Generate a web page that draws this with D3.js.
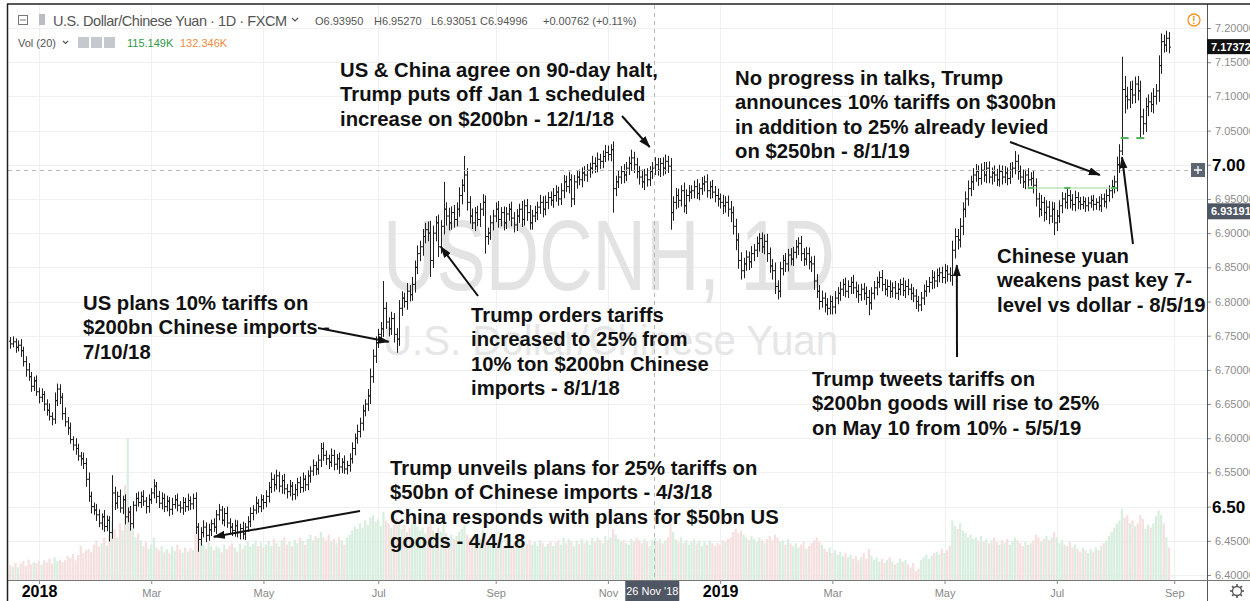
<!DOCTYPE html>
<html lang="en">
<head>
<meta charset="UTF-8">
<title>USDCNH 1D</title>
<script src="https://d3js.org/d3.v7.min.js"></script>
<style>
  body { margin: 0; background: #fff; }
  svg { display: block; }
</style>
</head>
<body>
<script>
// daily USD/CNH bars, Dec 15 2017 .. Aug 29 2019 (weekdays)
var startDate = "2017-12-15";
var firstOpen = 6.742;
var closes = [
 6.738,6.741,6.733,6.736,6.728,6.712,6.700,6.690,6.676,6.684,
 6.668,6.660,6.664,6.650,6.641,6.632,6.628,6.655,6.672,6.660,
 6.636,6.624,6.615,6.598,6.590,6.585,6.574,6.570,6.563,6.540,
 6.515,6.500,6.495,6.488,6.476,6.485,6.471,6.480,6.462,6.520,
 6.505,6.515,6.498,6.510,6.485,6.492,6.475,6.502,6.512,6.506,
 6.515,6.508,6.500,6.510,6.520,6.530,6.515,6.505,6.512,6.500,
 6.508,6.496,6.503,6.510,6.502,6.498,6.506,6.500,6.509,6.504,
 6.512,6.470,6.452,6.462,6.470,6.458,6.466,6.475,6.470,6.488,
 6.495,6.480,6.490,6.476,6.470,6.465,6.472,6.462,6.468,6.460,
 6.470,6.478,6.490,6.495,6.505,6.500,6.510,6.506,6.515,6.528,
 6.540,6.532,6.545,6.530,6.538,6.526,6.522,6.530,6.518,6.525,
 6.535,6.528,6.540,6.532,6.545,6.552,6.560,6.555,6.568,6.585,
 6.575,6.570,6.565,6.575,6.562,6.570,6.558,6.565,6.555,6.560,
 6.570,6.585,6.600,6.610,6.622,6.640,6.650,6.662,6.690,6.720,
 6.740,6.752,6.760,6.790,6.770,6.760,6.775,6.752,6.745,6.790,
 6.805,6.800,6.815,6.810,6.825,6.850,6.870,6.880,6.895,6.905,
 6.900,6.860,6.900,6.915,6.880,6.910,6.935,6.925,6.915,6.930,
 6.920,6.935,6.955,6.970,6.985,6.945,6.925,6.915,6.930,6.920,
 6.935,6.945,6.895,6.900,6.915,6.925,6.935,6.920,6.930,6.915,
 6.928,6.935,6.922,6.912,6.925,6.935,6.920,6.940,6.930,6.915,
 6.925,6.930,6.938,6.945,6.935,6.945,6.952,6.948,6.955,6.960,
 6.950,6.962,6.975,6.968,6.978,6.950,6.975,6.982,6.978,6.988,
 6.985,6.992,6.995,7.002,6.998,7.008,7.005,7.012,7.018,7.015,
 7.022,6.965,6.975,6.982,6.990,6.985,6.995,7.002,7.010,7.000,
 6.990,6.982,6.975,6.985,6.978,6.990,6.995,7.000,6.992,7.002,
 6.995,7.005,6.998,6.930,6.945,6.955,6.948,6.962,6.940,6.955,
 6.960,6.962,6.968,6.958,6.965,6.972,6.975,6.962,6.968,6.960,
 6.955,6.950,6.945,6.940,6.945,6.935,6.930,6.910,6.890,6.860,
 6.845,6.855,6.865,6.858,6.870,6.875,6.885,6.892,6.880,6.888,
 6.870,6.852,6.845,6.822,6.815,6.848,6.860,6.855,6.868,6.862,
 6.872,6.880,6.885,6.870,6.862,6.870,6.858,6.855,6.830,6.815,
 6.800,6.805,6.795,6.790,6.800,6.792,6.805,6.812,6.818,6.825,
 6.815,6.822,6.828,6.820,6.815,6.810,6.818,6.812,6.806,6.798,
 6.812,6.820,6.828,6.835,6.825,6.818,6.822,6.815,6.820,6.812,
 6.818,6.825,6.816,6.822,6.818,6.812,6.808,6.800,6.795,6.805,
 6.815,6.822,6.828,6.835,6.830,6.838,6.842,6.835,6.845,6.840,
 6.838,6.875,6.895,6.890,6.910,6.935,6.950,6.965,6.975,6.985,
 6.990,6.980,6.992,6.985,6.995,6.982,6.988,6.985,6.978,6.990,
 6.982,6.988,6.980,6.992,6.995,7.005,6.990,6.982,6.975,6.985,
 6.978,6.980,6.970,6.950,6.935,6.945,6.930,6.938,6.925,6.935,
 6.915,6.925,6.940,6.950,6.945,6.955,6.948,6.942,6.952,6.946,
 6.942,6.946,6.940,6.944,6.948,6.942,6.945,6.940,6.950,6.946,
 6.955,6.962,6.968,6.975,7.000,7.020,7.110,7.100,7.095,7.110,
 7.102,7.118,7.108,7.070,7.060,7.085,7.092,7.088,7.100,7.108,
 7.145,7.180,7.175,7.185,7.172
];
// how far each bar's high/low reaches past its body, in thousandths
var wickUp = [
 6,8,5,7,9,6,8,10,7,6, 8,6,9,5,7,10,6,12,8,7, 6,9,7,8,5,10,7,6,9,8, 10,7,6,9,8,5,10,7,6,26,
 9,7,10,6,8,7,9,6,8,10, 7,9,6,8,7,10,6,8,9,7, 8,6,10,7,9,6,8,7,10,6, 7,9,6,8,10,7,9,6,8,7,
 9,6,8,10,7,6,9,8,7,10, 6,8,9,7,10,6,8,7,9,8, 10,7,9,6,8,10,7,9,6,8, 7,9,10,6,8,7,9,6,8,8,
 9,7,6,10,8,7,9,6,10,7, 8,9,7,10,8,9,7,10,12,10, 9,8,10,40,9,7,10,8,9,12, 10,8,12,9,11,10,12,9,11,10,
 12,18,11,10,12,9,40,10,12,9, 11,10,12,9,28,10,9,11,8,10, 9,12,10,8,11,9,10,12,8,9, 10,8,11,9,10,8,12,9,10,11,
 9,10,8,11,9,10,8,9,11,10, 8,11,10,9,12,8,10,9,11,8, 10,9,8,11,9,10,8,9,11,10, 8,12,9,10,8,11,9,10,12,9,
 10,8,11,9,10,8,9,11,10,8, 9,10,8,12,9,11,10,8,12,9, 10,8,9,11,8,10,9,11,8,10, 9,10,8,11,9,10,12,9,11,10,
 12,9,10,8,11,9,10,8,9,10, 11,9,10,12,9,10,8,11,9,10, 8,10,9,11,8,10,9,8,12,10, 9,11,8,10,9,8,10,9,11,8,
 10,9,8,11,9,10,8,9,10,11, 9,10,8,9,11,8,10,9,8,10, 9,8,10,9,11,8,9,10,8,9, 10,9,8,11,9,10,8,9,10,8,
 10,14,12,11,12,10,11,12,9,10, 11,9,10,12,9,10,8,11,9,10, 9,10,8,11,9,15,10,9,11,8, 10,9,11,10,9,11,8,10,9,11,
 10,9,8,10,9,11,8,9,10,8, 7,8,6,9,7,8,6,9,7,8, 9,8,10,9,12,10,48,20,14,12, 13,11,12,15,12,13,11,14,12,10,
 15,12,10,11,9
];
var wickDown = [
 7,5,8,6,9,7,10,6,8,7, 6,9,7,10,8,6,9,7,8,10, 9,7,10,6,8,9,7,10,8,11, 8,10,7,9,6,10,8,7,13,9,
 10,8,7,9,11,8,10,7,9,6, 8,7,10,9,6,8,10,7,9,8, 7,10,8,6,9,7,10,8,6,9, 8,10,18,9,7,10,8,9,7,10,
 8,6,9,7,10,8,9,7,10,8, 9,7,8,10,6,9,8,10,7,9, 8,10,7,9,11,8,10,7,9,8, 10,8,7,9,8,10,7,9,8,10,
 8,9,10,7,9,8,10,9,7,8, 9,7,10,8,9,11,8,10,12,9, 10,8,9,12,10,11,9,12,20,10, 11,9,12,10,9,12,10,11,13,10,
 12,24,11,12,15,10,12,14,11,10, 12,10,11,13,10,12,11,9,12,10, 11,10,25,12,10,11,9,12,10,11, 9,10,12,11,9,10,11,9,12,10,
 10,9,11,10,12,9,10,8,11,9, 10,9,11,8,10,12,9,10,8,11, 9,10,11,8,10,9,11,10,8,9, 10,35,11,9,10,12,9,10,11,12,
 10,11,9,12,10,9,11,10,8,10, 11,9,10,25,12,10,11,9,10,12, 9,10,11,8,10,9,11,10,12,9, 10,11,9,12,10,11,14,12,15,12,
 13,11,10,12,9,11,10,12,9,11, 12,10,13,11,12,9,10,12,11,9, 10,9,12,11,10,9,11,12,13,10, 12,9,11,10,9,11,10,9,11,10,
 9,10,11,9,10,12,9,10,11,18, 10,9,11,8,10,9,11,10,9,8, 10,9,8,11,9,10,9,11,10,9, 10,8,9,10,11,9,10,8,9,11,
 9,15,12,14,11,13,12,10,11,12, 10,11,9,10,12,9,11,10,9,10, 11,9,10,8,11,9,12,10,9,11, 10,9,12,11,12,10,13,11,12,10,
 18,12,10,11,9,10,12,9,10,11, 8,7,9,8,7,9,8,7,9,8, 10,9,11,10,14,12,6,25,14,12, 13,12,14,30,16,12,14,11,13,12,
 16,12,11,10,9
];
// volume, thousands
var volumes = [
 52,48,61,45,58,66,50,72,55,63, 60,68,54,70,62,75,58,80,66,72, 64,70,85,78,92,70,88,120,95,105,
 110,98,125,140,118,130,150,122,160,210, 180,150,200,175,335,500,260,180,150,165, 140,120,135,110,125,150,115,105,120,98,
 110,95,118,102,125,108,96,115,100,112, 105,160,180,140,125,110,135,120,105,118, 112,98,125,108,120,130,115,100,128,110,
 122,135,118,128,140,120,132,115,125,138, 120,145,130,118,140,150,125,135,120,142, 130,150,138,125,145,160,140,155,148,170,
 150,140,160,135,145,130,152,140,125,150, 160,175,190,180,200,185,210,195,220,230, 205,215,190,240,210,200,185,195,220,205,
 180,195,170,185,200,210,190,175,185,165, 190,210,175,160,185,170,200,165,150,160, 145,155,170,180,195,160,150,140,155,135,
 145,175,160,140,130,145,125,135,150,120, 130,140,125,135,120,145,130,115,128,140, 125,135,120,142,130,118,128,135,120,132,
 140,125,150,130,145,135,120,138,128,145, 130,140,125,148,135,150,142,130,155,140, 150,180,160,145,135,140,130,125,145,138,
 150,140,130,145,135,120,140,150,135,145, 130,140,150,200,170,145,135,150,130,140, 125,135,145,130,140,120,135,125,140,130,
 120,130,125,140,135,145,150,170,180,165, 175,160,150,140,155,145,135,150,140,130, 145,155,140,160,150,135,140,125,145,130,
 120,130,115,125,135,110,120,130,140,150, 135,125,110,100,115,95,105,90,100,85, 95,80,90,75,85,70,80,95,75,110,
 85,70,80,65,75,60,70,80,65,55, 60,75,65,70,55,45,60,30,40,70, 80,90,75,85,95,100,90,110,95,105,
 120,210,190,180,200,175,165,150,160,145, 150,140,155,135,145,130,140,150,135,125, 140,130,145,125,135,150,140,130,120,135,
 125,130,140,160,150,135,145,155,140,150, 170,150,130,140,125,120,135,115,125,110, 100,115,105,95,110,100,115,105,120,130,
 140,155,170,185,200,210,250,220,230,200, 210,190,200,230,215,180,195,185,200,225,
 245,230,200,150,115.149
];

var priceTicks = [6.40,6.45,6.50,6.55,6.60,6.65,6.70,6.75,6.80,6.85,6.90,6.95,7.00,7.05,7.10,7.15,7.20];
var tickLabels = ["2018","Mar","May","Jul","Sep","Nov","2019","Mar","May","Jul","Sep"];
var tickDates = ["2018-01-01","2018-03-01","2018-05-01","2018-07-01","2018-09-01","2018-11-01",
                 "2019-01-01","2019-03-01","2019-05-01","2019-07-01","2019-09-01"];

// drawn support line and breakout marks (bar index, price)
var supportLine = {from: 391, to: 423, price: 6.966};
var breakMarks = [[427, 7.039], [433, 7.039]];

var notes = [
  {lines: ["US & China agree on 90-day halt,", "Trump puts off Jan 1 scheduled", "increase on $200bn - 12/1/18"],
   tx: 340, ty: 77, tail: [622, 116], head: [245, 7.026]},
  {lines: ["No progress in talks, Trump", "announces 10% tariffs on $300bn", "in addition to 25% already levied", "on $250bn - 8/1/19"],
   tx: 735, ty: 85, tail: [1010, 142], head: [417.5, 6.985]},
  {lines: ["US plans 10% tariffs on", "$200bn Chinese imports -", "7/10/18"],
   tx: 83, ty: 310, tail: [318, 328], head: [145, 6.741]},
  {lines: ["Trump orders tariffs", "increased to 25% from", "10% ton $200bn Chinese", "imports - 8/1/18"],
   tx: 471, ty: 322, tail: [478, 296], head: [165, 6.880]},
  {lines: ["Trump tweets tariffs on", "$200bn goods will rise to 25%", "on May 10 from 10% - 5/5/19"],
   tx: 812, ty: 386, tail: [957, 357], head: [362.7, 6.853]},
  {lines: ["Trump unveils plans for 25% tariffs on", "$50bn of Chinese imports - 4/3/18", "China responds with plans for $50bn US", "goods - 4/4/18"],
   tx: 390, ty: 475, tail: [360, 511], head: [78, 6.456]},
  {lines: ["Chinese yuan", "weakens past key 7-", "level vs dollar - 8/5/19"],
   tx: 997, ty: 263, tail: [1133, 244], head: [426, 7.011]}
];

var width = 1250, height = 601;
var axisX = 1207, baseY = 580;

var svg = d3.select("body").append("svg")
    .attr("width", width)
    .attr("height", height)
    .style("font-family", "'Liberation Sans', Arial, sans-serif");

var n = closes.length;

// trading days (weekdays) for the x positions
var dates = [];
var dd = new Date(startDate + "T00:00:00Z");
while (dates.length < n + 5) {
    var wd = dd.getUTCDay();
    if (wd != 0 && wd != 6) dates.push(new Date(dd));
    dd.setUTCDate(dd.getUTCDate() + 1);
}
var tickIdx = tickDates.map(function(t) {
    var td = new Date(t + "T00:00:00Z");
    return dates.findIndex(function(d) { return d >= td; });
});

var x = d3.scaleLinear().domain([0, n - 1]).range([10.3, 1169]);
var y = d3.scaleLinear().domain([6.40, 7.20]).range([575, 28]);
var yv = d3.scaleLinear().domain([0, 600]).range([baseY, 410]);

var bars = d3.range(n).map(function(i) {
    var o = i == 0 ? firstOpen : closes[i - 1];
    var c = closes[i];
    return {i: i, o: o, c: c,
            h: Math.max(o, c) + wickUp[i] / 1000,
            l: Math.min(o, c) - wickDown[i] / 1000,
            v: volumes[i]};
});

svg.append("defs").append("clipPath").attr("id", "plot")
  .append("rect").attr("x", 8).attr("y", 5).attr("width", axisX - 8).attr("height", baseY - 5);

// grid
var grid = svg.append("g").attr("stroke", "#eef0f2").attr("stroke-width", 1);
grid.selectAll("line.h").data(priceTicks).enter().append("line")
    .attr("x1", 8).attr("x2", axisX)
    .attr("y1", function(d) { return Math.round(y(d)) + 0.5; })
    .attr("y2", function(d) { return Math.round(y(d)) + 0.5; });
grid.selectAll("line.v").data(tickIdx).enter().append("line")
    .attr("y1", 5).attr("y2", baseY)
    .attr("x1", function(d) { return Math.round(x(d)) + 0.5; })
    .attr("x2", function(d) { return Math.round(x(d)) + 0.5; });

// watermark
svg.append("text").attr("x", 383).attr("y", 290)
    .attr("font-size", 100).attr("fill", "#e3e3e3")
    .attr("textLength", 452).attr("lengthAdjust", "spacingAndGlyphs")
    .text("USDCNH, 1D");
svg.append("text").attr("x", 383).attr("y", 355)
    .attr("font-size", 42).attr("fill", "#e6e6e6")
    .attr("textLength", 455).attr("lengthAdjust", "spacingAndGlyphs")
    .text("U.S. Dollar/Chinese Yuan");

var plot = svg.append("g").attr("clip-path", "url(#plot)");

// volume
plot.append("g").selectAll("rect").data(bars).enter().append("rect")
    .attr("x", function(d) { return x(d.i) - 1.1; })
    .attr("width", 2.2)
    .attr("y", function(d) { return yv(d.v); })
    .attr("height", function(d) { return baseY - yv(d.v); })
    .attr("fill", function(d) { return d.c >= d.o ? "#d8eedf" : "#f6dfdf"; });

// crosshair
svg.append("line").attr("x1", 654.5).attr("x2", 654.5).attr("y1", 5).attr("y2", baseY)
    .attr("stroke", "#b8b8b8").attr("stroke-dasharray", "4,4");
svg.append("line").attr("x1", 8).attr("x2", 1190).attr("y1", 170.5).attr("y2", 170.5)
    .attr("stroke", "#b8b8b8").attr("stroke-dasharray", "4,4");

// ohlc bars
plot.append("g").selectAll("path").data(bars).enter().append("path")
    .attr("fill", "none").attr("stroke", "#1f1f1f").attr("stroke-width", 1)
    .attr("d", function(d) {
        var cx = Math.round(x(d.i)) + 0.5;
        return "M" + cx + "," + y(d.h) + "V" + y(d.l) +
               "M" + (cx - 1.5) + "," + y(d.o) + "H" + cx +
               "M" + cx + "," + y(d.c) + "H" + (cx + 1.5);
    });

// support line + marks
svg.append("line")
    .attr("x1", x(supportLine.from)).attr("x2", x(supportLine.to))
    .attr("y1", y(supportLine.price)).attr("y2", y(supportLine.price))
    .attr("stroke", "#9fd59f").attr("stroke-width", 1);
[supportLine.from, supportLine.from + 14, supportLine.to].forEach(function(i) {
    svg.append("line").attr("x1", x(i) - 3).attr("x2", x(i) + 3)
      .attr("y1", y(supportLine.price)).attr("y2", y(supportLine.price))
      .attr("stroke", "#5cb85c").attr("stroke-width", 2);
});
breakMarks.forEach(function(m) {
    svg.append("line").attr("x1", x(m[0]) - 4).attr("x2", x(m[0]) + 4)
      .attr("y1", y(m[1])).attr("y2", y(m[1]))
      .attr("stroke", "#4caf50").attr("stroke-width", 2);
});

// annotations
svg.append("defs").append("marker").attr("id", "ah")
    .attr("markerUnits", "userSpaceOnUse")
    .attr("markerWidth", 12).attr("markerHeight", 10)
    .attr("refX", 11).attr("refY", 4).attr("orient", "auto")
  .append("path").attr("d", "M0,0 L12,4 L0,8 Z").attr("fill", "#111");

notes.forEach(function(nt) {
    var t = svg.append("text").attr("font-size", 20.3).attr("font-weight", "bold").attr("fill", "#111");
    nt.lines.forEach(function(s, k) {
        t.append("tspan").attr("x", nt.tx).attr("y", nt.ty + k * 24.4).text(s);
    });
    svg.append("line")
        .attr("x1", nt.tail[0]).attr("y1", nt.tail[1])
        .attr("x2", x(nt.head[0])).attr("y2", y(nt.head[1]))
        .attr("stroke", "#111").attr("stroke-width", 2)
        .attr("marker-end", "url(#ah)");
});

// price axis
var ay = svg.append("g").attr("transform", "translate(" + axisX + ",0)")
    .call(d3.axisRight(y).tickValues(priceTicks).tickFormat(d3.format(".5f")).tickSize(4).tickPadding(4));
ay.select(".domain").remove();
ay.selectAll("line").attr("stroke", "#8a8a8a");
ay.selectAll("text").attr("fill", "#8c8c8c").style("font-size", "11px")
    .style("font-family", "'Liberation Sans', Arial, sans-serif");
svg.append("line").attr("x1", axisX + 0.5).attr("x2", axisX + 0.5).attr("y1", 4).attr("y2", height)
    .attr("stroke", "#555");

// big labels on the price axis
[7.00, 6.50].forEach(function(p) {
    svg.append("rect").attr("x", axisX + 5).attr("y", y(p) - 8).attr("width", 38).attr("height", 15).attr("fill", "#fff");
    svg.append("text").attr("x", axisX + 5).attr("y", y(p) + 6.5)
        .attr("font-size", 17).attr("font-weight", "bold").attr("fill", "#000")
        .text(d3.format(".2f")(p));
});

// last price / crosshair price labels
var lastC = closes[n - 1];
svg.append("rect").attr("x", axisX).attr("y", y(lastC) - 8).attr("width", width - axisX).attr("height", 15).attr("fill", "#111");
svg.append("text").attr("x", axisX + 4).attr("y", y(lastC) + 4).attr("font-size", 11).attr("font-weight", "bold")
    .attr("fill", "#fff").text("7.17372");
var crossP = 6.93191;
svg.append("rect").attr("x", axisX).attr("y", y(crossP) - 8).attr("width", width - axisX).attr("height", 16).attr("fill", "#4f5664");
svg.append("text").attr("x", axisX + 4).attr("y", y(crossP) + 4).attr("font-size", 11).attr("font-weight", "bold")
    .attr("fill", "#fff").text("6.93191");

// plus button on the crosshair
svg.append("rect").attr("x", 1191).attr("y", 163).attr("width", 14).attr("height", 14).attr("fill", "#5d6572");
svg.append("path").attr("d", "M1194,170H1202M1198,166V174").attr("stroke", "#fff").attr("stroke-width", 1.3);

// time axis
svg.append("line").attr("x1", 7).attr("x2", width).attr("y1", baseY + 0.5).attr("y2", baseY + 0.5).attr("stroke", "#777");
var ax = svg.append("g").attr("transform", "translate(0," + baseY + ")")
    .call(d3.axisBottom(x).tickValues(tickIdx).tickFormat(function(d, i) { return tickLabels[i]; }).tickSize(4).tickPadding(3));
ax.select(".domain").remove();
ax.selectAll("line").attr("stroke", "#8a8a8a");
ax.selectAll("text")
    .style("font-family", "'Liberation Sans', Arial, sans-serif")
    .style("font-size", function(d, i) { return /^\d{4}$/.test(tickLabels[i]) ? "16px" : "11px"; })
    .style("font-weight", function(d, i) { return /^\d{4}$/.test(tickLabels[i]) ? "bold" : "normal"; })
    .attr("fill", function(d, i) { return /^\d{4}$/.test(tickLabels[i]) ? "#000" : "#888"; })
    .attr("dy", function(d, i) { return /^\d{4}$/.test(tickLabels[i]) ? "0.62em" : "0.9em"; });

// crosshair date label
var crossI = dates.findIndex(function(d) { return d >= new Date("2018-11-26T00:00:00Z"); });
svg.append("rect").attr("x", x(crossI) - 27).attr("y", baseY + 1).attr("width", 54).attr("height", 20).attr("fill", "#4f5664");
svg.append("text").attr("x", x(crossI)).attr("y", baseY + 15).attr("text-anchor", "middle")
    .attr("font-size", 11).attr("fill", "#fff").text("26 Nov '18");

// gear
var gear = svg.append("g").attr("transform", "translate(1237,591)").attr("stroke", "#555").attr("fill", "none");
gear.append("circle").attr("r", 4.5).attr("stroke-width", 1.3);
d3.range(8).forEach(function(k) {
    var a = k * Math.PI / 4;
    gear.append("line").attr("x1", Math.cos(a) * 4.5).attr("y1", Math.sin(a) * 4.5)
        .attr("x2", Math.cos(a) * 7).attr("y2", Math.sin(a) * 7).attr("stroke-width", 1.6);
});

// frame
svg.append("line").attr("x1", 7.5).attr("x2", 7.5).attr("y1", 4).attr("y2", height).attr("stroke", "#222").attr("stroke-width", 1.5);
svg.append("line").attr("x1", 7).attr("x2", width).attr("y1", 4).attr("y2", 4).attr("stroke", "#222").attr("stroke-width", 1.5);

// header
var hdr = svg.append("g").attr("fill", "#555");
hdr.append("rect").attr("x", 18.5).attr("y", 15.5).attr("width", 9).attr("height", 9).attr("fill", "none").attr("stroke", "#777");
hdr.append("line").attr("x1", 20).attr("x2", 26).attr("y1", 20).attr("y2", 20).attr("stroke", "#777");
hdr.append("rect").attr("x", 39).attr("y", 14).attr("width", 6).attr("height", 11).attr("fill", "#b9bcc2");
hdr.append("text").attr("x", 53).attr("y", 26).attr("font-size", 14.5)
    .attr("textLength", 234).attr("lengthAdjust", "spacing")
    .text("U.S. Dollar/Chinese Yuan \u00b7 1D \u00b7 FXCM");
hdr.append("path").attr("d", "M292,18l3,3l3,-3").attr("fill", "none").attr("stroke", "#555").attr("stroke-width", 1.2);
var ohlc = [["O", "6.93950", 315], ["H", "6.95270", 374], ["L", "6.93051", 431], ["C", "6.94996", 480]];
ohlc.forEach(function(q) {
    hdr.append("text").attr("x", q[2]).attr("y", 25).attr("font-size", 11).text(q[0] + q[1]);
});
hdr.append("text").attr("x", 543).attr("y", 25).attr("font-size", 11).text("+0.00762 (+0.11%)");
hdr.append("text").attr("x", 18).attr("y", 47).attr("font-size", 11).text("Vol (20)");
hdr.append("path").attr("d", "M63,41l2.5,2.5l2.5,-2.5").attr("fill", "none").attr("stroke", "#555").attr("stroke-width", 1.2);
[78, 91, 104].forEach(function(px) {
    hdr.append("rect").attr("x", px).attr("y", 37).attr("width", 11).attr("height", 11).attr("fill", "#c5c8ce");
});
hdr.append("text").attr("x", 127).attr("y", 47).attr("font-size", 11).attr("fill", "#2f9a48").text("115.149K");
hdr.append("text").attr("x", 180).attr("y", 47).attr("font-size", 11).attr("fill", "#f08a3e").text("132.346K");

// alert icon
svg.append("circle").attr("cx", 1194).attr("cy", 20).attr("r", 6).attr("fill", "none").attr("stroke", "#f7931e").attr("stroke-width", 1.3);
svg.append("text").attr("x", 1194).attr("y", 24).attr("text-anchor", "middle").attr("font-size", 10).attr("font-weight", "bold")
    .attr("fill", "#f7931e").text("!");
</script>
</body>
</html>
